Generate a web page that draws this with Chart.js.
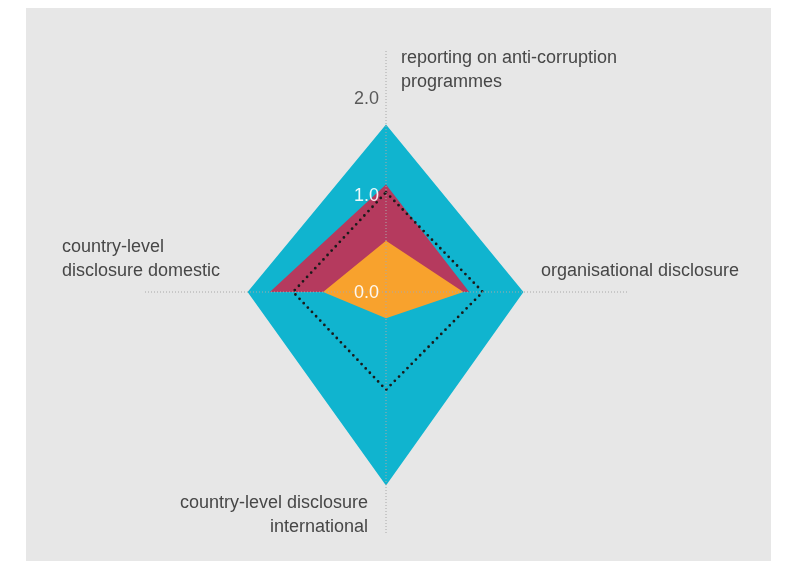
<!DOCTYPE html>
<html>
<head>
<meta charset="utf-8">
<script src="https://cdn.jsdelivr.net/npm/chart.js@4/dist/chart.umd.min.js"></script>
<style>
  html, body { margin: 0; padding: 0; background: #ffffff; }
  #panel {
    position: absolute; left: 26px; top: 8px;
    width: 745px; height: 553px;
    background: #e7e7e7;
  }
</style>
</head>
<body>
<div id="panel"><canvas id="radar"></canvas></div>
<script>
// axes, clockwise from the top
const axisLabels = [
    ['reporting on anti-corruption', 'programmes'],
    ['organisational disclosure'],
    ['country-level disclosure', 'international'],
    ['country-level', 'disclosure domestic']
];
const tickValues = [0, 1, 2];

// series values
const cyanValues = [1.73, 1.42, 2.0, 1.43];
const crimsonValues = [1.11, 0.86, 0.0, 1.2];
const orangeValues = [0.53, 0.8, 0.27, 0.65];
const dottedValues = [1.03, 1.0, 1.01, 0.96];

const FONT = '"Liberation Sans", Helvetica, Arial, sans-serif';

// where each axis label sits, relative to the chart centre
const labelLayout = [
    { dx: 15, dy: -234, align: 'left' },
    { dx: 155, dy: -21, align: 'left' },
    { dx: -18, dy: 211, align: 'right' },
    { dx: -324, dy: -45, align: 'left' }
];

const customLabelsPlugin = {
    id: 'customLabels',
    afterDraw(chart) {
        const scale = chart.scales.r;
        const ctx = chart.ctx;
        const cx = scale.xCenter;
        const cy = scale.yCenter;

        ctx.save();
        ctx.textBaseline = 'middle';

        // axis titles
        ctx.font = '18px ' + FONT;
        ctx.fillStyle = '#474747';
        axisLabels.forEach((lines, i) => {
            const pos = labelLayout[i];
            ctx.textAlign = pos.align;
            lines.forEach((line, j) => {
                ctx.fillText(line, cx + pos.dx, cy + pos.dy + j * 24);
            });
        });

        // tick labels, just left of the vertical axis
        ctx.font = '18px ' + FONT;
        ctx.textAlign = 'right';
        tickValues.forEach((v, i) => {
            const y = cy - scale.getDistanceFromCenterForValue(v);
            ctx.fillStyle = i === tickValues.length - 1 ? '#5a5a5a' : 'rgba(255,255,255,0.92)';
            ctx.fillText(v.toFixed(1), cx - 7, y + 1);
        });
        ctx.restore();
    }
};

const radarData = {
    labels: axisLabels.map(l => l.join(' ')),
    datasets: [
        {
            label: 'dotted',
            data: dottedValues,
            fill: false,
            borderColor: '#1a1a1a',
            borderWidth: 2.8,
            borderDash: [0, 6],
            borderCapStyle: 'round',
            pointRadius: 0,
            order: 0
        },
        {
            label: 'orange',
            data: orangeValues,
            fill: 'start',
            backgroundColor: '#f8a22d',
            borderWidth: 0,
            pointRadius: 0,
            order: 1
        },
        {
            label: 'crimson',
            data: crimsonValues,
            fill: 'start',
            backgroundColor: '#b53a5e',
            borderWidth: 0,
            pointRadius: 0,
            order: 2
        },
        {
            label: 'cyan',
            data: cyanValues,
            fill: 'start',
            backgroundColor: '#10b4cf',
            borderWidth: 0,
            pointRadius: 0,
            order: 3
        }
    ]
};

new Chart(document.getElementById('radar').getContext('2d'), {
    type: 'radar',
    data: radarData,
    options: {
        responsive: true,
        maintainAspectRatio: false,
        animation: false,
        layout: { padding: { left: 0, right: 25, top: 42, bottom: 27 } },
        elements: { line: { tension: 0 } },
        plugins: {
            legend: { display: false },
            tooltip: { enabled: false },
            title: { display: false }
        },
        scales: {
            r: {
                min: 0,
                max: 2.5,
                ticks: { display: false, stepSize: 1 },
                pointLabels: { display: false },
                grid: { display: false, z: 1 },
                angleLines: {
                    display: true,
                    color: '#a8a8a8',
                    lineWidth: 1,
                    borderDash: [1, 2]
                }
            }
        }
    },
    plugins: [customLabelsPlugin]
});
</script>
</body>
</html>
